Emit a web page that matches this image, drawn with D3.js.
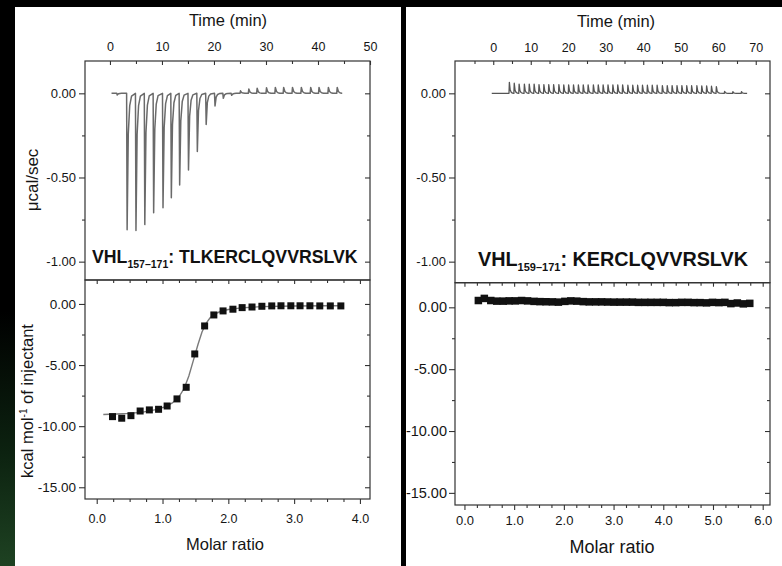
<!DOCTYPE html>
<html><head><meta charset="utf-8">
<script src="https://cdn.jsdelivr.net/npm/d3@7"></script>
<style>
body{margin:0;background:#000;}
svg{display:block;}
</style>
</head><body>
<svg id="c" width="782" height="566"></svg>
<script>
// ================= DATA =================
// Panel A : VHL157-171 : TLKERCLQVVRSLVK
const timeTicksA = [0, 10, 20, 30, 40, 50];
const timeTickLabelsA = ["0", "10", "20", "30", "40", "50"];
const timeMinorA = [5, 15, 25, 35, 45];
const powerTicks = [0, -0.5, -1.0];
const powerTickLabels = ["0.00", "-0.50", "-1.00"];
const powerMinor = [-0.25, -0.75];
const injTimeA = [1.3, 3.2, 4.9, 6.6, 8.3, 10.1, 11.7, 13.3, 15.0, 16.7, 18.4, 20.1, 21.7, 23.3, 25.0, 26.6, 28.2, 30.0, 31.7, 33.3, 35.0, 36.7, 38.5, 40.1, 41.9, 43.6];
const injPeakA = [-0.01, -0.81, -0.815, -0.78, -0.71, -0.68, -0.62, -0.545, -0.455, -0.345, -0.185, -0.075, -0.03, -0.012, 0.015, 0.025, 0.03, 0.033, 0.035, 0.035, 0.035, 0.035, 0.035, 0.035, 0.035, 0.035];
const baselineA = [0.3, 44.5];

const ratioTicksA = [0, 1, 2, 3, 4];
const ratioTickLabelsA = ["0.0", "1.0", "2.0", "3.0", "4.0"];
const heatTicks = [0, -5, -10, -15];
const heatTickLabels = ["0.00", "-5.00", "-10.00", "-15.00"];
const heatMinor = [-2.5, -7.5, -12.5];
const ratioA = [0.24, 0.38, 0.52, 0.66, 0.80, 0.94, 1.07, 1.22, 1.36, 1.49, 1.64, 1.78, 1.92, 2.07, 2.21, 2.36, 2.51, 2.66, 2.80, 2.95, 3.09, 3.24, 3.39, 3.55, 3.71];
const heatA = [-9.22, -9.35, -9.14, -8.76, -8.67, -8.62, -8.35, -7.77, -6.82, -4.09, -1.80, -0.90, -0.57, -0.43, -0.30, -0.25, -0.19, -0.16, -0.15, -0.15, -0.15, -0.15, -0.16, -0.16, -0.16];
const fitRatioA = [0.1, 0.3, 0.5, 0.7, 0.9, 1.05, 1.15, 1.25, 1.33, 1.40, 1.47, 1.54, 1.60, 1.66, 1.72, 1.80, 1.90, 2.0, 2.2, 2.5, 3.0, 3.5, 3.75];
const fitHeatA = [-9.05, -9.0, -8.95, -8.85, -8.65, -8.4, -8.1, -7.6, -6.9, -5.9, -4.6, -3.3, -2.3, -1.6, -1.15, -0.8, -0.58, -0.45, -0.32, -0.22, -0.17, -0.15, -0.15];

// Panel B : VHL159-171 : KERCLQVVRSLVK
const timeTicksB = [0, 10, 20, 30, 40, 50, 60, 70];
const timeTickLabelsB = ["0", "10", "20", "30", "40", "50", "60", "70"];
const timeMinorB = [-5, 5, 15, 25, 35, 45, 55, 65];
const injTimeB = [4.2, 5.5, 6.8, 8.2, 9.5, 10.8, 12.1, 13.4, 14.7, 16.0, 17.4, 18.7, 20.0, 21.3, 22.6, 23.9, 25.2, 26.6, 27.9, 29.2, 30.5, 31.8, 33.1, 34.4, 35.8, 37.1, 38.4, 39.7, 41.0, 42.3, 43.6, 45.0, 46.3, 47.6, 48.9, 50.2, 51.5, 52.8, 54.2, 55.5, 56.8, 58.1, 59.4, 61.6, 63.8, 66.1];
const injPeakB = [0.065, 0.06, 0.055, 0.055, 0.055, 0.055, 0.052, 0.052, 0.052, 0.052, 0.052, 0.05, 0.05, 0.05, 0.05, 0.05, 0.05, 0.05, 0.05, 0.05, 0.05, 0.05, 0.05, 0.05, 0.048, 0.048, 0.048, 0.048, 0.048, 0.048, 0.048, 0.046, 0.046, 0.046, 0.046, 0.046, 0.045, 0.045, 0.045, 0.044, 0.044, 0.042, 0.04, 0.012, 0.01, 0.01];
const baselineB = [-0.4, 67.7];

const ratioTicksB = [0, 1, 2, 3, 4, 5, 6];
const ratioTickLabelsB = ["0.0", "1.0", "2.0", "3.0", "4.0", "5.0", "6.0"];
const ratioB = [0.28, 0.40, 0.53, 0.65, 0.78, 0.90, 1.02, 1.15, 1.27, 1.40, 1.52, 1.64, 1.77, 1.89, 2.02, 2.14, 2.26, 2.39, 2.51, 2.64, 2.76, 2.88, 3.01, 3.13, 3.26, 3.38, 3.50, 3.63, 3.75, 3.88, 4.00, 4.12, 4.25, 4.37, 4.50, 4.62, 4.74, 4.87, 4.99, 5.12, 5.24, 5.36, 5.49, 5.61, 5.74];
const heatB = [0.55, 0.72, 0.55, 0.50, 0.50, 0.52, 0.52, 0.55, 0.52, 0.48, 0.46, 0.45, 0.44, 0.42, 0.48, 0.52, 0.50, 0.46, 0.44, 0.44, 0.44, 0.43, 0.42, 0.42, 0.42, 0.42, 0.40, 0.40, 0.40, 0.40, 0.40, 0.38, 0.38, 0.40, 0.40, 0.38, 0.38, 0.36, 0.40, 0.38, 0.40, 0.30, 0.35, 0.28, 0.32];

// ================= DRAWING =================
const FONT = "'Liberation Sans', Arial, Helvetica, sans-serif";
const INK = "#151515";
const svg = d3.select("#c");
const defs = svg.append("defs");

svg.append("rect").attr("width", 782).attr("height", 566).attr("fill", "#000");
const grad = defs.append("linearGradient").attr("id", "grn").attr("x1", 0).attr("y1", 0).attr("x2", 0).attr("y2", 1);
grad.append("stop").attr("offset", "0").attr("stop-color", "#000");
grad.append("stop").attr("offset", "0.55").attr("stop-color", "#000");
grad.append("stop").attr("offset", "0.8").attr("stop-color", "#0c2210");
grad.append("stop").attr("offset", "1").attr("stop-color", "#1e4222");
svg.append("rect").attr("x", 0).attr("y", 0).attr("width", 15).attr("height", 566).attr("fill", "url(#grn)");

svg.append("rect").attr("x", 15).attr("y", 7).attr("width", 386).attr("height", 559).attr("fill", "#fff");
svg.append("rect").attr("x", 406).attr("y", 7).attr("width", 376).attr("height", 559).attr("fill", "#fff");

defs.append("clipPath").attr("id", "clipB").append("rect").attr("x", 406).attr("y", 7).attr("width", 376).attr("height", 559);

function styleAxis(a, fs) {
  a.select(".domain").remove();
  a.attr("font-family", FONT).attr("font-size", fs);
  a.selectAll("line").attr("stroke", "#333").attr("stroke-width", 1.1);
  a.selectAll("text").attr("fill", INK).attr("font-size", fs);
  return a;
}
function axis(g, gen, tr, vals, size, pad, labels, fs) {
  gen.tickValues(vals).tickSizeInner(size).tickSizeOuter(0).tickPadding(pad)
     .tickFormat(labels ? (d, i) => labels[i] : () => "");
  return styleAxis(g.append("g").attr("transform", tr).call(gen), fs || 12.5);
}
function frame(g, x0, y0, x1, y1) {
  g.append("rect").attr("x", x0).attr("y", y0).attr("width", x1 - x0).attr("height", y1 - y0)
    .attr("fill", "none").attr("stroke", "#333").attr("stroke-width", 1.2);
}
function thermoPath(times, peaks, base, sc) {
  const pts = [[base[0], 0]];
  times.forEach((t, i) => {
    const p = peaks[i];
    pts.push([t, 0], [t + 0.1, p], [t + 0.32, p * 0.3], [t + 0.6, p * 0.09], [t + 0.95, p * 0.02]);
  });
  pts.push([base[1], 0]);
  return d3.line().x(d => sc.x(d[0])).y(d => sc.y(d[1]))(pts);
}
function label(g, x, y, sub, main, size, subSize) {
  const t = g.append("text").attr("x", x).attr("y", y).attr("font-family", FONT)
    .attr("font-weight", "bold").attr("font-size", size).attr("fill", "#111");
  t.append("tspan").text("VHL");
  t.append("tspan").attr("font-size", subSize).attr("dy", 5).text(sub);
  t.append("tspan").attr("dy", -5).text(": " + main);
}
function title(g, x, y, txt, rot, fs) {
  return g.append("text").attr("transform", `translate(${x},${y})` + (rot ? " rotate(-90)" : ""))
    .attr("text-anchor", "middle").attr("font-family", FONT).attr("font-size", fs || 16.5).attr("fill", INK).text(txt);
}
const ticksBetween = (a, b, step, skip) => d3.range(Math.ceil(a / step) * step, b + 1e-9, step)
  .filter(v => !skip.some(s => Math.abs(s - v) < 1e-6));

// ---------- Panel A ----------
const gA = svg.append("g");
{
  const X0 = 85, X1 = 370, YT = 61, YM = 280, YB = 499;
  const xT = d3.scaleLinear().domain([-4.8, 50]).range([X0, X1]);
  const yT = d3.scaleLinear().domain([-1.109, 0.192]).range([YM, YT]);
  const xB = d3.scaleLinear().domain([-0.178, 4.153]).range([X0, X1]);
  const yB = d3.scaleLinear().domain([-15.96, 1.96]).range([YB, YM]);

  axis(gA, d3.axisTop(xT), `translate(0,${YT})`, timeTicksA, -4, 10, timeTickLabelsA, 12.5);
  axis(gA, d3.axisTop(xT), `translate(0,${YT})`, timeMinorA, -3, 0, null);
  axis(gA, d3.axisLeft(yT), `translate(${X0},0)`, powerTicks, 6, 3, powerTickLabels, 13);
  axis(gA, d3.axisLeft(yT), `translate(${X0},0)`, powerMinor, 3, 0, null);
  axis(gA, d3.axisRight(yT), `translate(${X1},0)`, powerTicks, -5, 0, null);
  axis(gA, d3.axisRight(yT), `translate(${X1},0)`, powerMinor, -3, 0, null);

  gA.append("path").attr("d", thermoPath(injTimeA, injPeakA, baselineA, {x: xT, y: yT}))
    .attr("fill", "none").attr("stroke", "#6a6a6a").attr("stroke-width", 1.5).attr("stroke-linejoin", "round");

  const rMinA = ticksBetween(-0.178, 4.153, 0.25, ratioTicksA);
  axis(gA, d3.axisBottom(xB), `translate(0,${YB})`, ratioTicksA, 5, 10, ratioTickLabelsA, 12.5);
  axis(gA, d3.axisBottom(xB), `translate(0,${YB})`, rMinA, 3, 0, null);
  axis(gA, d3.axisBottom(xB), `translate(0,${YM})`, ratioTicksA, 4, 0, null);
  axis(gA, d3.axisBottom(xB), `translate(0,${YM})`, rMinA, 3, 0, null);
  axis(gA, d3.axisLeft(yB), `translate(${X0},0)`, heatTicks, 6, 3, heatTickLabels, 13.5);
  axis(gA, d3.axisLeft(yB), `translate(${X0},0)`, heatMinor, 3, 0, null);
  axis(gA, d3.axisRight(yB), `translate(${X1},0)`, heatTicks, -5, 0, null);
  axis(gA, d3.axisRight(yB), `translate(${X1},0)`, heatMinor, -3, 0, null);

  gA.append("path").attr("d", d3.line().x((d, i) => xB(fitRatioA[i])).y(d => yB(d))(fitHeatA))
    .attr("fill", "none").attr("stroke", "#7a7a7a").attr("stroke-width", 1.4);
  gA.append("g").selectAll("rect").data(heatA).join("rect")
    .attr("x", (d, i) => xB(ratioA[i]) - 3.5).attr("y", d => yB(d) - 3.5)
    .attr("width", 7).attr("height", 7).attr("fill", "#111");

  frame(gA, X0, YT, X1, YM);
  frame(gA, X0, YM, X1, YB);

  label(gA, 92, 262.5, "157\u2013171", "TLKERCLQVVRSLVK", 17.7, 10.5);
  title(gA, 228, 26, "Time (min)", false);
  title(gA, 38, 180, "\u03bccal/sec", true, 17);
  const kt = gA.append("text").attr("transform", "translate(33,401) rotate(-90)")
    .attr("text-anchor", "middle").attr("font-family", FONT).attr("font-size", 16.5).attr("fill", INK);
  kt.append("tspan").text("kcal mol");
  kt.append("tspan").attr("font-size", 10).attr("dy", -6).text("-1");
  kt.append("tspan").attr("dy", 6).text(" of injectant");
  title(gA, 225, 550, "Molar ratio", false);
}

// ---------- Panel B ----------
const gB = svg.append("g").attr("clip-path", "url(#clipB)");
{
  const X0 = 455, X1 = 770, YT = 61, YM = 282.7, YB = 505;
  const xT = d3.scaleLinear().domain([-10.2, 73.8]).range([X0, X1]);
  const yT = d3.scaleLinear().domain([-1.125, 0.192]).range([YM, YT]);
  const xB = d3.scaleLinear().domain([-0.19, 6.147]).range([X0, X1]);
  const yB = d3.scaleLinear().domain([-15.98, 1.99]).range([YB, YM]);

  axis(gB, d3.axisTop(xT), `translate(0,${YT})`, timeTicksB, -4, 9, timeTickLabelsB, 12.5);
  axis(gB, d3.axisTop(xT), `translate(0,${YT})`, timeMinorB, -3, 0, null);
  axis(gB, d3.axisLeft(yT), `translate(${X0},0)`, powerTicks, 6, 3, powerTickLabels, 13);
  axis(gB, d3.axisLeft(yT), `translate(${X0},0)`, powerMinor, 3, 0, null);
  axis(gB, d3.axisRight(yT), `translate(${X1},0)`, powerTicks, -5, 0, null);
  axis(gB, d3.axisRight(yT), `translate(${X1},0)`, powerMinor, -3, 0, null);

  gB.append("path").attr("d", thermoPath(injTimeB, injPeakB, baselineB, {x: xT, y: yT}))
    .attr("fill", "none").attr("stroke", "#555").attr("stroke-width", 1.3).attr("stroke-linejoin", "round");

  const rMinB = ticksBetween(-0.19, 6.147, 0.25, ratioTicksB);
  axis(gB, d3.axisBottom(xB), `translate(0,${YB})`, ratioTicksB, 5, 6, ratioTickLabelsB, 13);
  axis(gB, d3.axisBottom(xB), `translate(0,${YB})`, rMinB, 3, 0, null);
  axis(gB, d3.axisBottom(xB), `translate(0,${YM})`, ratioTicksB, 4, 0, null);
  axis(gB, d3.axisBottom(xB), `translate(0,${YM})`, rMinB, 3, 0, null);
  axis(gB, d3.axisLeft(yB), `translate(${X0},0)`, heatTicks, 6, 2, heatTickLabels, 14.5);
  axis(gB, d3.axisLeft(yB), `translate(${X0},0)`, heatMinor, 3, 0, null);
  axis(gB, d3.axisRight(yB), `translate(${X1},0)`, heatTicks, -5, 0, null);
  axis(gB, d3.axisRight(yB), `translate(${X1},0)`, heatMinor, -3, 0, null);

  gB.append("g").selectAll("rect").data(heatB).join("rect")
    .attr("x", (d, i) => xB(ratioB[i]) - 3.75).attr("y", d => yB(d) - 3.75)
    .attr("width", 7.5).attr("height", 7.5).attr("fill", "#111");

  frame(gB, X0, YT, X1, YM);
  frame(gB, X0, YM, X1, YB);

  label(gB, 478, 266, "159\u2013171", "KERCLQVVRSLVK", 19.8, 11);
  title(gB, 616, 26.5, "Time (min)", false);
  title(gB, 612, 553, "Molar ratio", false, 18);
}
</script>
</body></html>
